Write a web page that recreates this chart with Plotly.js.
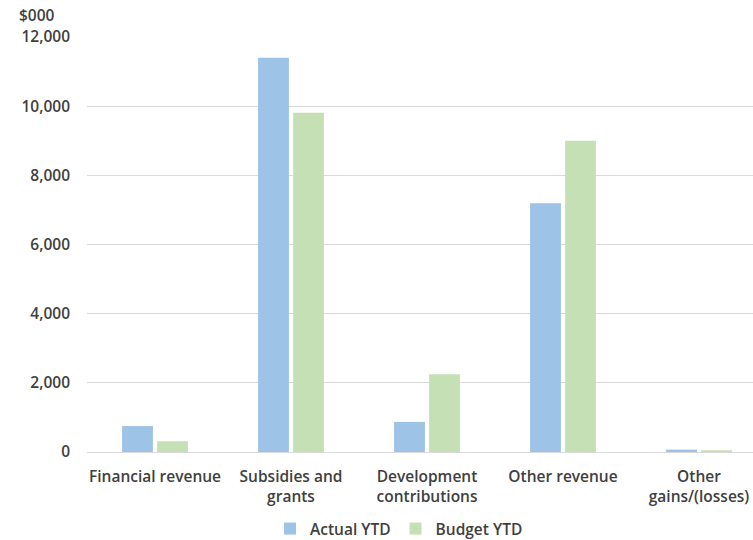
<!DOCTYPE html>
<html>
<head>
<meta charset="utf-8">
<script src="https://cdn.plot.ly/plotly-3.0.1.min.js"></script>
<style>
  html, body { margin: 0; padding: 0; background: #fff; }
  #chart { width: 753px; height: 540px; }
</style>
</head>
<body>
<div id="chart"></div>
<script>
// Revenue by category, $000
const categories = [
  "Financial revenue",
  "Subsidies and<br>grants",
  "Development<br>contributions",
  "Other revenue",
  "Other<br>gains/(losses)"
];
const actualYTD = [750, 11400, 870, 7190, 70];
const budgetYTD = [310, 9810, 2250, 9000, 50];
const yTickVals = [0, 2000, 4000, 6000, 8000, 10000, 12000];
const yTickText = ["0", "2,000", "4,000", "6,000", "8,000", "10,000", "12,000"];

const FONT = "'Open Sans', Lato, sans-serif";
const TEXT = "#404040";
const SIZE = 15.5;
const WEIGHT = 600;
const tickFont = { family: FONT, size: SIZE, color: TEXT, weight: WEIGHT };

const traces = [
  {
    type: "bar", name: "Actual YTD",
    x: categories, y: actualYTD,
    marker: { color: "#9DC3E6" },
    hoverinfo: "skip"
  },
  {
    type: "bar", name: "Budget YTD",
    x: categories, y: budgetYTD,
    marker: { color: "#C5E0B4" },
    hoverinfo: "skip"
  }
];

const layout = {
  width: 753, height: 540,
  margin: { l: 87, r: 0, t: 37, b: 88 },
  paper_bgcolor: "#fff", plot_bgcolor: "#fff",
  font: tickFont,
  barmode: "group",
  bargap: 0.485,
  bargroupgap: 0.12,
  showlegend: true,
  legend: {
    orientation: "h",
    xref: "container", yref: "container",
    x: 270 / 753, xanchor: "left",
    y: 1 - 529 / 540, yanchor: "middle",
    font: tickFont,
    itemwidth: 30,
    tracegroupgap: 0
  },
  xaxis: {
    type: "category",
    range: [-0.5, 4.397],
    showgrid: false,
    showline: true, linecolor: "#D9D9D9", linewidth: 1,
    ticks: "", ticklabelstandoff: 10,
    tickfont: tickFont,
    fixedrange: true
  },
  yaxis: {
    range: [0, 12000],
    tickvals: yTickVals, ticktext: yTickText,
    showgrid: true, gridcolor: "#D9D9D9", gridwidth: 1,
    zeroline: false, showline: false,
    ticks: "", ticklabelstandoff: 16,
    tickfont: tickFont,
    fixedrange: true
  },
  annotations: [
    {
      text: "$000", xref: "paper", yref: "paper",
      x: -70 / 666, xanchor: "left",
      y: 1 + 22 / 415, yanchor: "middle",
      showarrow: false,
      font: tickFont
    }
  ]
};

Plotly.newPlot("chart", traces, layout, { staticPlot: true, displayModeBar: false });
</script>
</body>
</html>
